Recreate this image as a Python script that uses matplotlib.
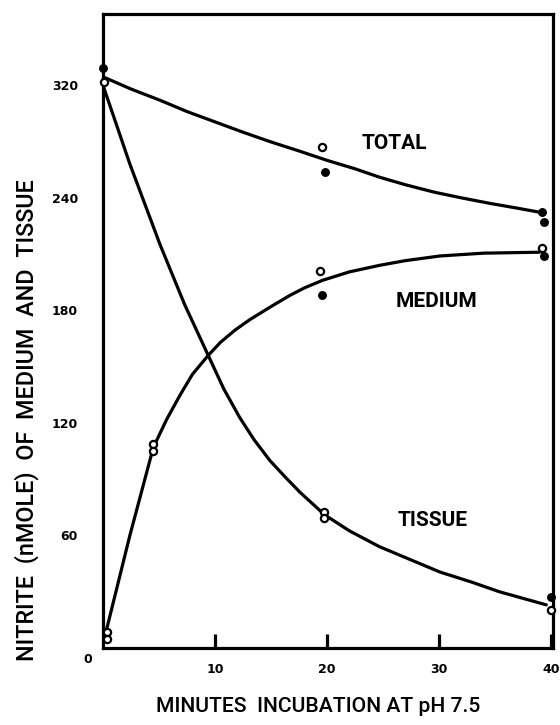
import matplotlib
matplotlib.use("Agg")
import matplotlib.pyplot as plt

# ---------------- data ----------------
# smooth fitted curves
total_curve_x = [0.2, 2.5, 5.1, 7.5, 10.0, 12.5, 14.9, 17.5, 20.0, 22.5, 24.7, 27.0, 29.6, 32.0, 34.6, 37.0, 39.3]
total_curve_y = [304, 298, 292, 286, 280.5, 275, 270, 265, 260, 255.5, 251, 247, 243, 240, 237, 234.5, 232]

tissue_curve_x = [0.0, 2.4, 5.1, 7.3, 9.4, 10.8, 12.2, 13.5, 14.9, 16.3, 17.6, 19.8, 22.0, 24.7,
                  27.5, 30.1, 33.0, 35.4, 37.5, 39.6]
tissue_curve_y = [300, 258, 215, 183, 156, 138, 123, 111, 100, 91, 83, 71, 62.5, 54,
                  47, 40.5, 35, 30, 26.5, 23]

medium_curve_x = [0.2, 2.4, 4.5, 5.7, 6.9, 8.0, 9.4, 10.5, 11.8, 13.1, 15.0, 16.7, 18.0, 19.6, 22.0,
                  24.7, 27.0, 30.1, 34.0, 39.0]
medium_curve_y = [7, 60, 107, 122, 135, 146, 156, 163, 169.5, 175, 182, 188, 192, 196, 200.5,
                  204, 206.5, 209, 210.5, 211]

# measured points: filled (solid) and open circles
filled_x = [0.0, 19.8, 39.2, 39.4, 19.6, 39.4, 40.0]
filled_y = [309, 254, 232.5, 227, 188, 209, 27]

open_x = [0.1, 19.6, 0.35, 0.35, 4.5, 4.5, 19.4, 39.2, 19.7, 19.7, 40.0]
open_y = [302, 267, 8.5, 5, 108.8, 105, 201, 213, 72.5, 69.3, 20]

x_ticks = [10, 20, 30, 40]
x_tick_labels = ["10", "20", "30", "40"]
y_ticks = [60, 120, 180, 240, 300]
y_tick_labels = ["60", "120", "180", "240", "320"]

curve_labels = ["TOTAL", "MEDIUM", "TISSUE"]
label_pos_x = [23.1, 26.1, 26.3]
label_pos_y = [269, 184.5, 68]

x_label = "MINUTES  INCUBATION AT pH 7.5"
y_label = "NITRITE  (nMOLE)  OF  MEDIUM  AND  TISSUE"

# ---------------- styling ----------------
label_family = ["Roboto", "DejaVu Sans"]

fig = plt.figure(figsize=(5.6, 7.25), dpi=100)
ax = fig.add_axes([103 / 560, 1 - 648 / 725, (553 - 103) / 560, (648 - 14) / 725])
ax.set_xlim(0, 40.2)
ax.set_ylim(0, 338)

lw = 2.3
for s in ax.spines.values():
    s.set_linewidth(lw)
    s.set_color("black")

for cx, cy in [(total_curve_x, total_curve_y), (tissue_curve_x, tissue_curve_y),
               (medium_curve_x, medium_curve_y)]:
    ax.plot(cx, cy, color="black", lw=lw, solid_capstyle="round",
            solid_joinstyle="round", zorder=2)

ax.plot(filled_x, filled_y, "o", color="black", markersize=5.4, zorder=4, clip_on=False)
ax.plot(open_x, open_y, "o", markerfacecolor="white", markeredgecolor="black",
        markeredgewidth=1.6, markersize=5.2, zorder=4, clip_on=False)

# ticks
ax.set_xticks(x_ticks)
ax.set_xticklabels(x_tick_labels, fontsize=9, fontweight="bold")
ax.tick_params(axis="x", direction="in", length=10, width=lw, pad=11)
ax.set_yticks(y_ticks)
ax.set_yticklabels(y_tick_labels, fontsize=9, fontweight="bold")
ax.tick_params(axis="y", length=0, pad=18)

ax.text(-1.4, -6, "0", fontsize=9, fontweight="bold", ha="center", va="center")

for t, xx, yy in zip(curve_labels, label_pos_x, label_pos_y):
    ax.text(xx, yy, t, fontsize=15, fontweight="bold", family=label_family,
            ha="left", va="center")

fig.text(318 / 560, 1 - 706 / 725, x_label, fontsize=15.2, family=label_family,
         fontweight="medium", ha="center", va="center")
fig.text(27 / 560, 1 - 420 / 725, y_label, fontsize=16.8, family=label_family,
         fontweight="medium", ha="center", va="center", rotation=90)

fig.savefig("out.png", dpi=100)
